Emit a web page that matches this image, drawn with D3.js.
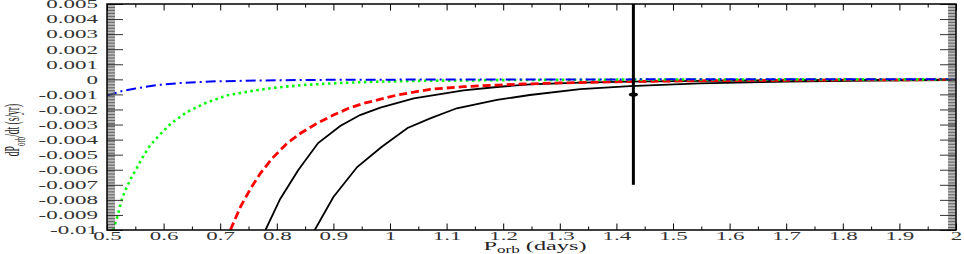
<!DOCTYPE html>
<html>
<head>
<meta charset="utf-8">
<script src="https://cdn.jsdelivr.net/npm/d3@7"></script>
<style>
  body { margin: 0; background: #fff; }
  svg { display: block; }
</style>
</head>
<body>
<svg id="canvas" width="964" height="254"></svg>
<script>
// curves: orbital period (days) vs dP/dt (s/yr)
let blueP = [0.5, 0.527, 0.548, 0.589, 0.63, 0.695, 0.8, 0.9, 1.0, 1.2, 1.5, 2.0]
let blueV = [-0.00108, -0.00077, -0.00062, -0.00038, -0.00024, -0.00013, -0.00006, -0.00003, -0.00002, -0.00001, 0, 0]

let greenP = [0.511, 0.52, 0.525, 0.532, 0.542, 0.554, 0.564, 0.576, 0.595, 0.614, 0.64, 0.672, 0.712, 0.76, 0.8, 0.85, 0.9, 0.97, 1.05, 1.2, 1.4, 1.6, 1.8, 2.0]
let greenV = [-0.0100, -0.0089, -0.0081, -0.0074, -0.0066, -0.0058, -0.0051, -0.0044, -0.0036, -0.0029, -0.0022, -0.0016, -0.00106, -0.00075, -0.00054, -0.00037, -0.00026, -0.00016, -0.0001, -0.00005, -0.00002, -0.00001, 0, 0]

let redP = [0.718, 0.736, 0.754, 0.771, 0.792, 0.818, 0.842, 0.871, 0.9, 0.927, 0.954, 1.013, 1.071, 1.13, 1.189, 1.235, 1.3, 1.4, 1.5, 1.6, 1.7, 1.8, 1.9, 2.0]
let redV = [-0.0100, -0.00845, -0.00723, -0.00624, -0.00524, -0.00425, -0.00358, -0.00292, -0.00237, -0.00192, -0.00159, -0.00104, -0.00066, -0.00049, -0.00038, -0.00031, -0.00024, -0.00016, -0.00011, -0.00008, -0.00006, -0.00004, -0.00003, -0.00002]

let black1P = [0.78, 0.806, 0.838, 0.873, 0.912, 0.947, 0.983, 1.042, 1.13, 1.189, 1.247, 1.336, 1.424, 1.547, 1.7, 2.0]
let black1V = [-0.0100, -0.00794, -0.00602, -0.00423, -0.0031, -0.00237, -0.00188, -0.00126, -0.00073, -0.00051, -0.00033, -0.00022, -0.00015, -0.0001, -0.00006, -0.00002]

let black2P = [0.867, 0.9, 0.942, 0.985, 1.031, 1.071, 1.118, 1.189, 1.247, 1.336, 1.424, 1.547, 1.7, 1.85, 2.0]
let black2V = [-0.0100, -0.00781, -0.00582, -0.00449, -0.00323, -0.00259, -0.00192, -0.00137, -0.00104, -0.00065, -0.00045, -0.00027, -0.00015, -0.00008, -0.00005]

// measured point with error bar
let obsP = [1.43]
let obsV = [-0.001]
let obsErr = [0.006]

let xTicks = [0.5, 0.6, 0.7, 0.8, 0.9, 1, 1.1, 1.2, 1.3, 1.4, 1.5, 1.6, 1.7, 1.8, 1.9, 2]
let xTickLabels = ['0.5', '0.6', '0.7', '0.8', '0.9', '1', '1.1', '1.2', '1.3', '1.4', '1.5', '1.6', '1.7', '1.8', '1.9', '2']
let yTicks = [0.005, 0.004, 0.003, 0.002, 0.001, 0, -0.001, -0.002, -0.003, -0.004, -0.005, -0.006, -0.007, -0.008, -0.009, -0.01]
let yTickLabels = ['0.005', '0.004', '0.003', '0.002', '0.001', '0', '-0.001', '-0.002', '-0.003', '-0.004', '-0.005', '-0.006', '-0.007', '-0.008', '-0.009', '-0.01']

let plotLeft = 107, plotRight = 956, plotTop = 4, plotBottom = 230
let stretch = 2
let font = "'Liberation Serif', 'DejaVu Serif', serif"

let canvas = d3.select('#canvas')

let xScale = d3.scaleLinear().domain([0.5, 2]).range([plotLeft, plotRight])
let yScale = d3.scaleLinear().domain([-0.01, 0.005]).range([plotBottom, plotTop])

canvas.append('clipPath').attr('id', 'plot-clip')
    .append('rect')
    .attr('x', plotLeft).attr('y', plotTop)
    .attr('width', plotRight - plotLeft).attr('height', plotBottom - plotTop)

let line = d3.line()
    .x((d) => xScale(d[0]))
    .y((d) => yScale(d[1]))

let plot = canvas.append('g').attr('clip-path', 'url(#plot-clip)')

let curves = [
    { p: black1P, v: black1V, color: '#000', width: 1.8, dash: null },
    { p: black2P, v: black2V, color: '#000', width: 1.8, dash: null },
    { p: redP, v: redV, color: '#ff0000', width: 2.8, dash: '8,4' },
    { p: greenP, v: greenV, color: '#00ff00', width: 2.6, dash: '2.5,3.5' },
    { p: blueP, v: blueV, color: '#0000ff', width: 2, dash: '10,4,2,4' }
]

curves.forEach((c) => {
    plot.append('path')
        .datum(c.p.map((p, i) => [p, c.v[i]]))
        .attr('fill', 'none')
        .attr('stroke', c.color)
        .attr('stroke-width', c.width)
        .attr('stroke-dasharray', c.dash)
        .attr('d', line)
})

// error bar
obsP.forEach((p, i) => {
    plot.append('line')
        .attr('x1', xScale(p)).attr('x2', xScale(p))
        .attr('y1', yScale(obsV[i] + obsErr[i]))
        .attr('y2', yScale(obsV[i] - obsErr[i]))
        .attr('stroke', '#000')
        .attr('stroke-width', 3)
    plot.append('ellipse')
        .attr('cx', xScale(p)).attr('cy', yScale(obsV[i]))
        .attr('rx', 4.5).attr('ry', 2)
        .attr('fill', '#000')
})

// minor ticks
let yMinor = d3.range(151).map((i) => -0.01 + i * 0.0001)
let xMinor = d3.range(15).map((i) => 0.55 + i * 0.1)

let styleTicks = (g, color) => {
    g.select('.domain').remove()
    g.selectAll('line').attr('stroke', color).attr('stroke-width', 1)
}

canvas.append('g').attr('transform', 'translate(' + plotLeft + ',0)')
    .call(d3.axisLeft(yScale).tickValues(yMinor).tickSize(-8).tickFormat(''))
    .call((g) => styleTicks(g, '#666'))
canvas.append('g').attr('transform', 'translate(' + plotRight + ',0)')
    .call(d3.axisRight(yScale).tickValues(yMinor).tickSize(-8).tickFormat(''))
    .call((g) => styleTicks(g, '#666'))
canvas.append('g').attr('transform', 'translate(0,' + plotBottom + ')')
    .call(d3.axisBottom(xScale).tickValues(xMinor).tickSize(-3.5).tickFormat(''))
    .call((g) => styleTicks(g, '#000'))
canvas.append('g').attr('transform', 'translate(0,' + plotTop + ')')
    .call(d3.axisTop(xScale).tickValues(xMinor).tickSize(-3.5).tickFormat(''))
    .call((g) => styleTicks(g, '#000'))

// major ticks and labels
let yAxis = canvas.append('g').attr('transform', 'translate(' + plotLeft + ',0)')
    .call(d3.axisLeft(yScale).tickValues(yTicks).tickSize(-16).tickPadding(9)
        .tickFormat((d, i) => yTickLabels[i]))
    .call((g) => styleTicks(g, '#333'))
yAxis.selectAll('text')
    .attr('x', null)
    .attr('dy', '0.33em')
    .attr('transform', 'translate(-9,0) scale(' + stretch + ',1)')
    .attr('font-family', font)
    .attr('font-size', 11.5)
    .attr('fill', '#333')

canvas.append('g').attr('transform', 'translate(' + plotRight + ',0)')
    .call(d3.axisRight(yScale).tickValues(yTicks).tickSize(-16).tickFormat(''))
    .call((g) => styleTicks(g, '#333'))

let xAxis = canvas.append('g').attr('transform', 'translate(0,' + plotBottom + ')')
    .call(d3.axisBottom(xScale).tickValues(xTicks).tickSize(-6.5)
        .tickFormat((d, i) => xTickLabels[i]))
    .call((g) => styleTicks(g, '#000'))
xAxis.selectAll('text')
    .attr('y', null)
    .attr('dy', null)
    .attr('transform', 'translate(0,9.5) scale(' + stretch + ',1)')
    .attr('font-family', font)
    .attr('font-size', 11.5)
    .attr('fill', '#333')

canvas.append('g').attr('transform', 'translate(0,' + plotTop + ')')
    .call(d3.axisTop(xScale).tickValues(xTicks).tickSize(-6.5).tickFormat(''))
    .call((g) => styleTicks(g, '#000'))

// frame
canvas.append('rect')
    .attr('x', plotLeft).attr('y', plotTop)
    .attr('width', plotRight - plotLeft).attr('height', plotBottom - plotTop)
    .attr('fill', 'none')
    .attr('stroke', '#000')
    .attr('stroke-width', 1.5)

// axis titles
let xTitle = canvas.append('text')
    .attr('transform', 'translate(535,250) scale(1.8,1)')
    .attr('text-anchor', 'middle')
    .attr('font-family', font)
    .attr('font-size', 13.5)
    .attr('fill', '#222')
xTitle.append('tspan').text('P')
xTitle.append('tspan').attr('font-size', 9.5).attr('dy', 2.5).text('orb')
xTitle.append('tspan').attr('dy', -2.5).text(' (days)')

let yTitle = canvas.append('text')
    .attr('transform', 'translate(19,130) scale(2.2,1) rotate(-90)')
    .attr('text-anchor', 'middle')
    .attr('font-family', font)
    .attr('font-size', 9.5)
    .attr('fill', '#222')
yTitle.append('tspan').text('dP')
yTitle.append('tspan').attr('font-size', 7).attr('dy', 2.5).text('orb')
yTitle.append('tspan').attr('dy', -2.5).text('/dt (s/yr)')
</script>
</body>
</html>
